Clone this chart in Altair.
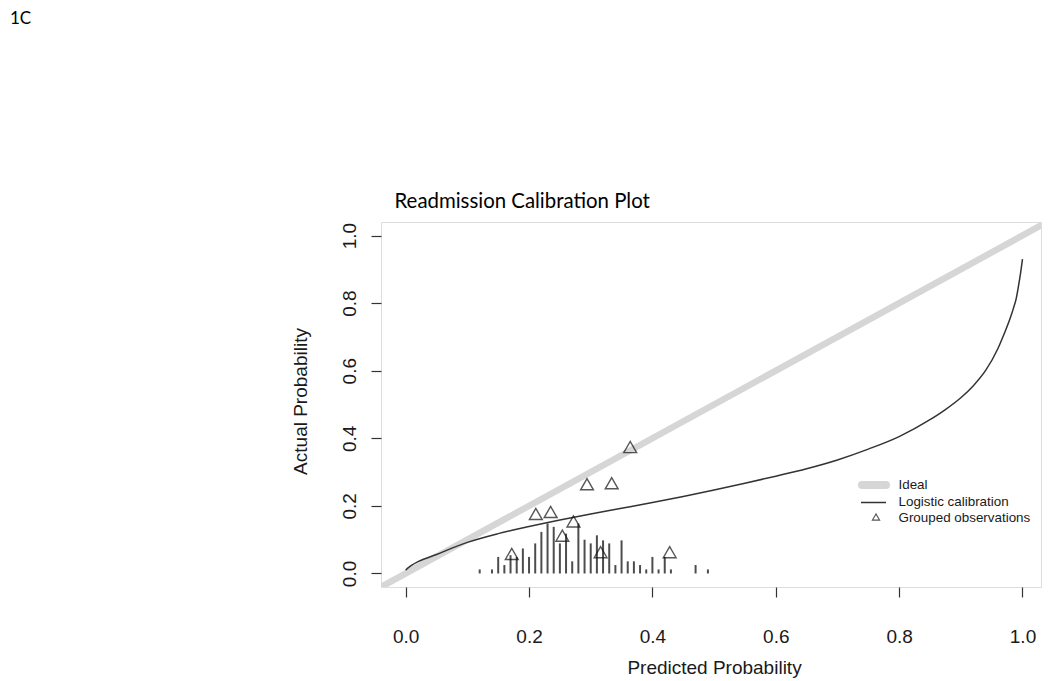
import altair as alt
import pandas as pd

# ---- data ----
ideal_x = [-0.06, 1.06]
ideal_y = [-0.06, 1.06]

curve_x = [0.0, 0.005, 0.01, 0.02, 0.03, 0.05, 0.075, 0.1, 0.15, 0.2, 0.25, 0.3, 0.35,
           0.4, 0.45, 0.5, 0.55, 0.6, 0.65, 0.7, 0.75, 0.8, 0.85, 0.875, 0.9, 0.92,
           0.94, 0.96, 0.97, 0.98, 0.985, 0.99, 0.993, 0.997, 1.0]
curve_y = [0.010, 0.018, 0.025, 0.035, 0.043, 0.056, 0.075, 0.092, 0.118, 0.139, 0.158,
           0.176, 0.193, 0.210, 0.228, 0.247, 0.267, 0.288, 0.310, 0.336, 0.368, 0.405,
           0.455, 0.485, 0.520, 0.555, 0.600, 0.665, 0.708, 0.755, 0.783, 0.815, 0.845,
           0.890, 0.930]

group_x = [0.172, 0.211, 0.235, 0.254, 0.272, 0.294, 0.316, 0.334, 0.364, 0.428]
group_y = [0.058, 0.176, 0.182, 0.112, 0.154, 0.264, 0.063, 0.267, 0.374, 0.063]

spike_x = [0.12, 0.14, 0.15, 0.16, 0.17, 0.18, 0.19, 0.20, 0.21, 0.22, 0.23, 0.24, 0.25,
           0.26, 0.27, 0.28, 0.29, 0.30, 0.31, 0.32, 0.33, 0.34, 0.35, 0.36, 0.37, 0.38,
           0.39, 0.40, 0.41, 0.42, 0.43, 0.47, 0.49]
spike_h = [0.012, 0.012, 0.049, 0.025, 0.054, 0.049, 0.074, 0.049, 0.089, 0.123, 0.148,
           0.138, 0.089, 0.118, 0.036, 0.148, 0.100, 0.089, 0.113, 0.098, 0.089, 0.025,
           0.098, 0.036, 0.036, 0.025, 0.012, 0.049, 0.012, 0.049, 0.012, 0.025, 0.012]

tick_values = [0.0, 0.2, 0.4, 0.6, 0.8, 1.0]
legend_labels = ["Ideal", "Logistic calibration", "Grouped observations"]
title_text = "Readmission Calibration Plot"
panel_tag = "1C"
x_title = "Predicted Probability"
y_title = "Actual Probability"

W, H = 660, 365
AXFONT = "Liberation Sans"
TXT = "#1a1a1a"

xs = alt.Scale(domain=[-0.04, 1.030], nice=False, zero=False)
ys = alt.Scale(domain=[-0.04, 1.04], nice=False, zero=False)

x_axis = alt.Axis(values=tick_values, format=".1f", domain=False, grid=False,
                  tickSize=10, tickColor="#333333", tickWidth=1.2,
                  labelFont=AXFONT, labelFontSize=19, labelColor=TXT, labelPadding=30,
                  title=x_title, titleFont=AXFONT, titleFontSize=19, titleFontWeight="normal",
                  titleColor=TXT, titleBaseline="alphabetic", titleX=333,
                  titleY=86, titleAlign="center")
y_axis = alt.Axis(values=tick_values, format=".1f", domain=False, grid=False,
                  tickSize=10, tickColor="#333333", tickWidth=1.2,
                  labelFont=AXFONT, labelFontSize=19, labelColor=TXT, labelPadding=12,
                  labelAngle=270, labelAlign="center", labelBaseline="bottom",
                  title=y_title, titleFont=AXFONT, titleFontSize=19, titleFontWeight="normal",
                  titleColor=TXT, titleAngle=270, titleBaseline="alphabetic",
                  titleX=-75, titleY=179, titleAlign="center")

ideal_df = pd.DataFrame({"x": ideal_x, "y": ideal_y})
curve_df = pd.DataFrame({"x": curve_x, "y": curve_y})
group_df = pd.DataFrame({"x": group_x, "y": group_y})
spike_df = pd.DataFrame({"x": spike_x, "y0": [0.0] * len(spike_x), "h": spike_h})

ideal = alt.Chart(ideal_df).mark_line(color="#d6d6d6", strokeWidth=6.5, clip=True).encode(
    x=alt.X("x:Q", scale=xs, axis=x_axis),
    y=alt.Y("y:Q", scale=ys, axis=y_axis),
)
spikes = alt.Chart(spike_df).mark_rule(color="#4d4d4d", strokeWidth=2).encode(
    x=alt.X("x:Q", scale=xs), y=alt.Y("y0:Q", scale=ys), y2="h:Q"
)
curve = alt.Chart(curve_df).mark_line(color="#333333", strokeWidth=1.5, interpolate="monotone").encode(
    x=alt.X("x:Q", scale=xs), y=alt.Y("y:Q", scale=ys)
)
groups = alt.Chart(group_df).mark_point(shape="triangle-up", filled=False, color="#111111",
                                        size=165, strokeWidth=1.4).encode(
    x=alt.X("x:Q", scale=xs), y=alt.Y("y:Q", scale=ys)
)

# ---- manual legend (inside plot, bottom right) ----
one = pd.DataFrame({"a": [0]})
leg_ideal = alt.Chart(one).mark_rule(color="#d6d6d6", strokeWidth=8, strokeCap="round").encode(
    x=alt.value(481), x2=alt.value(505), y=alt.value(263))
leg_line = alt.Chart(one).mark_rule(color="#333333", strokeWidth=1.5).encode(
    x=alt.value(480), x2=alt.value(505), y=alt.value(280.5))
leg_tri = alt.Chart(one).mark_point(shape="triangle-up", filled=False, color="#111111",
                                    size=50, strokeWidth=1.2).encode(
    x=alt.value(495), y=alt.value(295))

leg_rows = [263, 280.3, 296]
leg_texts = [
    alt.Chart(pd.DataFrame({"label": [lab]})).mark_text(
        align="left", baseline="middle", font=AXFONT, fontSize=13.4, color=TXT).encode(
        x=alt.value(517.5), y=alt.value(yy), text="label:N")
    for lab, yy in zip(legend_labels, leg_rows)
]

title = alt.Chart(pd.DataFrame({"t": [title_text]})).mark_text(
    align="left", baseline="alphabetic", font="Lato", fontSize=20.4, color="#000000").encode(
    x=alt.value(13.5), y=alt.value(-14), text="t:N")
tag = alt.Chart(pd.DataFrame({"t": [panel_tag]})).mark_text(
    align="left", baseline="top", font="Lato", fontSize=17, color="#000000").encode(
    x=alt.value(-371), y=alt.value(-211), text="t:N")

chart = alt.layer(ideal, spikes, curve, groups, leg_ideal, leg_line, leg_tri, *leg_texts,
                  title, tag).properties(
    width=W, height=H,
    autosize=alt.AutoSizeParams(type="none"),
    padding={"left": 373, "top": 214, "right": 1, "bottom": 92},
).configure_view(stroke="#333333", strokeWidth=1.4).configure(background="white")

chart.save("out.html", embed_options={"renderer": "svg", "actions": False})
